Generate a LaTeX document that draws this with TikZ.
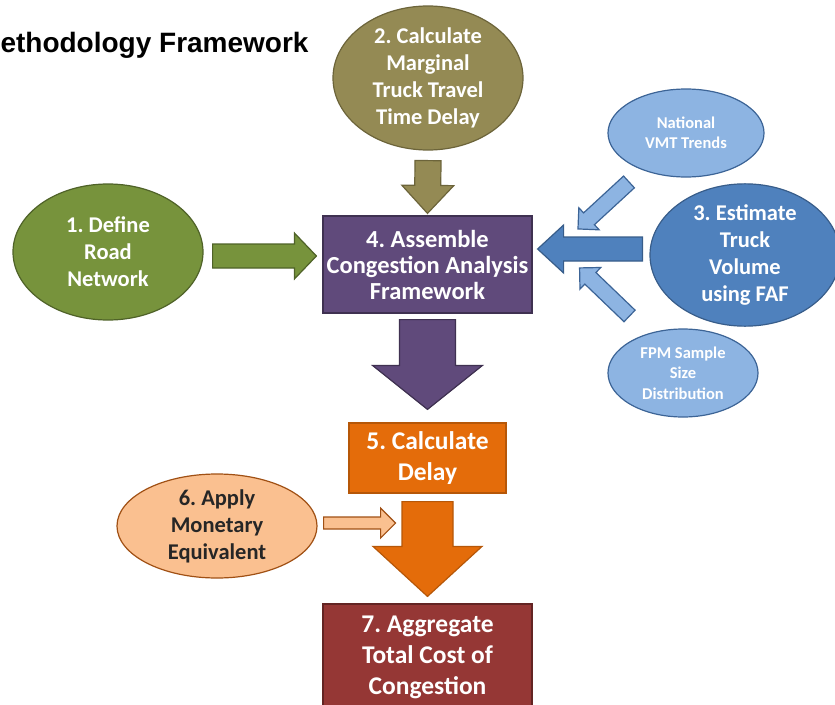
\documentclass[tikz,border=0pt]{standalone}
\usepackage{fontspec}
\setmainfont{Carlito}
\newfontfamily\headfont{Liberation Sans}
\usetikzlibrary{shapes.geometric,calc}
\frenchspacing

\definecolor{oliveFill}{RGB}{148,138,84}
\definecolor{oliveLine}{RGB}{108,100,58}
\definecolor{greenFill}{RGB}{119,147,60}
\definecolor{greenLine}{RGB}{79,98,40}
\definecolor{purpleFill}{RGB}{96,74,123}
\definecolor{purpleLine}{RGB}{63,49,81}
\definecolor{orangeFill}{RGB}{228,108,10}
\definecolor{orangeLine}{RGB}{182,87,8}
\definecolor{peachFill}{RGB}{250,192,144}
\definecolor{peachLine}{RGB}{160,80,20}
\definecolor{redFill}{RGB}{149,55,53}
\definecolor{redLine}{RGB}{99,36,35}
\definecolor{blueFill}{RGB}{79,129,189}
\definecolor{blueLine}{RGB}{56,93,138}
\definecolor{skyFill}{RGB}{141,180,226}
\definecolor{skyLine}{RGB}{60,100,150}

% block arrow: [style]{from}{to}{shaft half width}{head half width}{head length}
\newcommand{\blockarrow}[6][]{%
  \path ($(#3)!#6!(#2)$) coordinate (ba-base);
  \draw[#1] ($(#2)!#4!90:(#3)$) -- ($(ba-base)!#4!90:(#3)$) -- ($(ba-base)!#5!90:(#3)$)
    -- (#3) -- ($(ba-base)!#5!-90:(#3)$) -- ($(ba-base)!#4!-90:(#3)$)
    -- ($(#2)!#4!-90:(#3)$) -- cycle;}

\tikzset{
  stepoval/.style={ellipse, draw, line width=1.2pt, inner sep=0pt, align=center,
    text=white, font=\bfseries\fontsize{22.5}{27}\selectfont},
  stepbox/.style={rectangle, draw, line width=1.2pt, inner sep=0pt, align=center,
    text=white, font=\bfseries\fontsize{24.5}{26}\selectfont},
  inputoval/.style={stepoval, fill=skyFill, draw=skyLine,
    font=\bfseries\fontsize{16.5}{20.5}\selectfont},
  fat/.style={draw, line width=1.2pt, line join=miter}
}

\begin{document}
\begin{tikzpicture}[x=1pt, y=-1pt]
  \useasboundingbox (0,0) rectangle (835,704);
  \clip (0,0) rectangle (835,704);

  \node[anchor=base west, font=\headfont\bfseries\fontsize{28}{32}\selectfont] (title) at (-3,52) {ethodology Framework};

  \node[stepoval, fill=oliveFill, draw=oliveLine, minimum width=190pt, minimum height=144pt] (marg) at (428,78)
    {2. Calculate\\Marginal\\Truck Travel\\Time Delay};
  \node[stepoval, fill=greenFill, draw=greenLine, minimum width=190pt, minimum height=136pt] (road) at (108,252)
    {1. Define\\Road\\Network};
  \node[stepbox, fill=purpleFill, draw=purpleLine, minimum width=209pt, minimum height=97pt] (frame) at (427.5,264.5)
    {4. Assemble\\Congestion Analysis\\Framework};
  \node[stepoval, fill=blueFill, draw=blueLine, minimum width=190pt, minimum height=126pt] (faf) at (745,255)
    {3. Estimate\\Truck\\Volume\\using FAF};
  \node[inputoval, minimum width=156pt, minimum height=88pt] (vmt) at (686,133) {National\\VMT Trends};
  \node[inputoval, minimum width=150pt, minimum height=88pt] (fpm) at (683,373) {FPM Sample\\Size\\Distribution};
  \node[stepbox, fill=orangeFill, draw=orangeLine, minimum width=157pt, minimum height=70pt,
    font=\bfseries\fontsize{25.5}{31}\selectfont] (delay) at (427.5,458) {5. Calculate\\Delay};
  \node[stepoval, fill=peachFill, draw=peachLine, text=black!85, minimum width=200pt, minimum height=104pt] (money) at (217,526)
    {6. Apply\\Monetary\\Equivalent};
  \node[stepbox, fill=redFill, draw=redLine, minimum width=209pt, minimum height=107pt,
    font=\bfseries\fontsize{25.5}{31}\selectfont] (total) at (427.5,657.5) {7. Aggregate\\Total Cost of\\Congestion};

  % arrow ends
  \path ([yshift=-10pt]marg.south) coordinate (o1) ([yshift=2pt]frame.north) coordinate (o2);
  \path ([xshift=9pt,yshift=-4pt]road.east) coordinate (g1);
  \path (g1 -| frame.west) ++(-6pt,0pt) coordinate (g2);
  \path ([yshift=-6pt]frame.south) coordinate (p1) ([yshift=13pt]delay.north) coordinate (p2);
  \path ([yshift=-8pt]delay.south) coordinate (r1) ([yshift=7pt]total.north) coordinate (r2);
  \path ([xshift=6pt,yshift=3pt]money.east) coordinate (m1) ++(72pt,0pt) coordinate (m2);
  \path ([xshift=-7pt,yshift=6pt]faf.west) coordinate (b1);
  \path (b1 -| frame.east) ++(5pt,0pt) coordinate (b2);
  \path (vmt.220) ++(-13pt,-12pt) coordinate (v1) ++(-51pt,-47pt) coordinate (v2);
  \path (fpm.133) ++(-17pt,18pt) coordinate (f1) ++(-50pt,48pt) coordinate (f2);

  \blockarrow[fat, fill=oliveFill, draw=oliveLine]{o1}{o2}{13pt}{26pt}{28pt}
  \blockarrow[fat, fill=greenFill, draw=greenLine]{g1}{g2}{12pt}{23pt}{22pt}
  \blockarrow[fat, fill=purpleFill, draw=purpleLine]{p1}{p2}{28pt}{55pt}{44pt}
  \blockarrow[fat, fill=orangeFill, draw=orangeLine]{r1}{r2}{25.5pt}{54.5pt}{50pt}
  \blockarrow[fat, fill=peachFill, draw=peachLine]{m1}{m2}{6pt}{15pt}{15pt}
  \blockarrow[fat, fill=blueFill, draw=blueLine]{b1}{b2}{12pt}{24pt}{26pt}
  \blockarrow[fat, fill=skyFill, draw=skyLine]{v1}{v2}{8pt}{15pt}{15pt}
  \blockarrow[fat, fill=skyFill, draw=skyLine]{f1}{f2}{8pt}{15pt}{15pt}
\end{tikzpicture}
\end{document}
